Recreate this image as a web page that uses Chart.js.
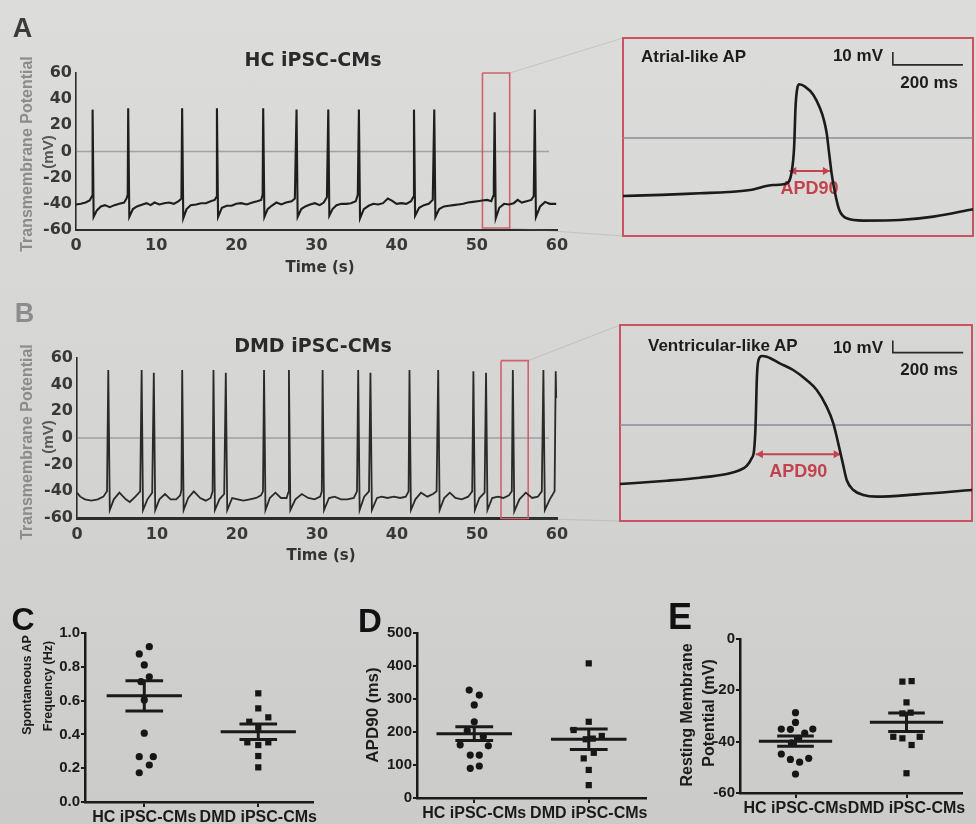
<!DOCTYPE html>
<html><head><meta charset="utf-8">
<script src="https://cdn.jsdelivr.net/npm/chart.js@4.4.1/dist/chart.umd.min.js"></script>
<style>
html,body{margin:0;padding:0;}
body{width:976px;height:824px;overflow:hidden;background:linear-gradient(180deg,#dcdcda 0%,#d5d5d3 50%,#cbcbc9 100%);font-family:"Liberation Sans",Arial,sans-serif;}
#stage{position:relative;width:976px;height:824px;}
.t{position:absolute;white-space:nowrap;line-height:1;font-weight:bold;}
</style></head><body><div id="stage"></div>
<script>
// ---------------- DATA ----------------
const timeTicks = [0, 10, 20, 30, 40, 50, 60];
const vmTicks = [-60, -40, -20, 0, 20, 40, 60];

// HC iPSC-CMs trace: [time s, mV]
const hcTrace = [
[0.0,-40.5],[0.6,-40],[1.2,-39],[1.7,-37.5],[2.0,-34],[2.07,32],[2.2,-50],[2.6,-45],[3.1,-42],[3.6,-41],[4.2,-42.5],[4.8,-41],[5.4,-40],[6.0,-39],[6.3,-36],[6.45,-33],[6.51,33],[6.65,-50],[7.1,-44],[7.6,-42],[8.3,-40.5],[8.8,-39.5],[9.3,-41],[9.8,-39],[10.4,-40.5],[11.0,-39.5],[11.6,-39],[12.2,-40],[12.8,-38],[13.15,-36],[13.24,33],[13.38,-51],[13.8,-44],[14.3,-41],[15.0,-40.5],[15.6,-39.5],[16.2,-39.5],[16.8,-38],[17.3,-37],[17.5,-35],[17.58,33],[17.72,-50],[18.2,-43],[18.8,-41.5],[19.4,-41.5],[20.0,-40],[20.6,-39.5],[21.3,-40.5],[22.0,-39],[22.6,-38],[23.1,-37],[23.28,-33],[23.35,33],[23.5,-50],[23.9,-44],[24.4,-41.5],[25.0,-39],[25.6,-40.5],[26.2,-39],[26.9,-38],[27.3,-36],[27.51,32],[27.65,-50],[28.1,-44],[28.6,-42],[29.2,-40.5],[29.8,-39.5],[30.4,-41],[30.9,-39],[31.3,-35],[31.47,32],[31.6,-49],[32.0,-44],[32.5,-41],[33.1,-40],[33.7,-40],[34.3,-39.5],[34.9,-38],[35.15,-33],[35.29,32],[35.43,-51],[35.9,-44],[36.5,-41.5],[37.1,-40],[37.7,-40.5],[38.3,-39.5],[38.9,-36],[39.4,-37.5],[40.0,-40],[40.6,-39.5],[41.2,-40],[41.8,-38],[42.05,-35],[42.16,32],[42.3,-49],[42.8,-43],[43.4,-41],[44.0,-40],[44.5,-37],[44.69,32],[44.83,-50],[45.3,-44],[45.9,-42],[46.5,-41.5],[47.1,-41],[47.7,-40.5],[48.3,-40],[48.9,-39],[49.5,-38.5],[50.1,-38],[50.7,-37.5],[51.3,-37],[51.8,-38],[52.05,-34],[52.12,-22],[52.22,30],[52.36,-51],[52.8,-43],[53.4,-40],[54.0,-40.5],[54.6,-39.5],[55.1,-37],[55.6,-39],[56.2,-38],[56.8,-37],[57.1,-34],[57.23,32],[57.37,-50],[57.9,-42],[58.5,-38.5],[59.1,-40],[59.9,-40]
];

// DMD iPSC-CMs trace: [time s, mV]
const dmdTrace = [
[0.0,-41],[0.4,-44],[1.0,-46],[1.8,-47],[2.6,-46],[3.3,-44],[3.75,-40],[3.91,51],[4.1,-54],[4.6,-46],[5.3,-41],[6.1,-46],[6.6,-48],[7.3,-44],[7.9,-40],[8.08,51],[8.25,-54],[8.8,-46],[9.4,-41],[9.6,49],[9.78,-54],[10.3,-46],[11.0,-42],[11.7,-46],[12.4,-46],[12.9,-43],[13.05,-39],[13.15,51],[13.33,-54],[13.9,-45],[14.6,-40],[15.4,-45],[16.1,-47],[16.7,-45],[16.95,-40],[17.06,51],[17.24,-54],[17.8,-46],[18.4,-42],[18.6,49],[18.78,-54],[19.4,-45],[20.1,-46],[20.8,-47],[21.6,-46],[22.4,-45],[23.0,-43],[23.25,-40],[23.38,51],[23.56,-54],[24.1,-45],[24.8,-41],[25.5,-45],[26.2,-45],[26.4,-41],[26.49,51],[26.67,-54],[27.3,-46],[28.1,-42],[28.9,-45],[29.7,-46],[30.4,-44],[30.6,-40],[30.7,51],[30.88,-54],[31.5,-45],[32.2,-44],[33.0,-46],[33.8,-46],[34.6,-45],[35.0,-40],[35.15,51],[35.33,-54],[35.9,-44],[36.5,-40],[36.68,49],[36.86,-54],[37.5,-45],[38.1,-44],[38.8,-45],[39.6,-44],[40.4,-45],[41.1,-44],[41.45,-40],[41.56,51],[41.74,-54],[42.3,-46],[43.0,-41],[43.8,-44],[44.5,-42],[44.95,-40],[45.15,51],[45.33,-54],[45.9,-45],[46.6,-41],[47.3,-45],[48.1,-46],[48.9,-44],[49.4,-40],[49.55,50],[49.73,-54],[50.3,-45],[50.95,-41],[51.13,49],[51.31,-54],[51.9,-45],[52.6,-44],[53.3,-45],[54.0,-43],[54.35,-40],[54.48,51],[54.66,-55],[55.3,-46],[56.1,-41],[56.9,-45],[57.6,-44],[58.1,-40],[58.3,51],[58.48,-54],[59.1,-46],[59.7,-40],[59.84,50],[59.9,30]
];

// zoom boxes: [t start, t end, top mV, bottom mV]
const hcZoomBox = [50.7, 54.1, 60, -58.5];
const dmdZoomBox = [53.0, 56.4, 58, -60.4];

// single action potentials: [ms, mV]
const atrialAP = [[0,-44.6],[110,-43.8],[220,-42.5],[300,-41.6],[363,-40],[429,-36.2],[468,-34.9],[482,-25.9],[489,-6.7],[493,24.1],[498,38.2],[504,41.3],[520,39.5],[544,33.1],[563,22.8],[574,13.8],[582,3.6],[589,-11.8],[596,-27.2],[606,-42.5],[618,-55.4],[639,-61.8],[687,-63.6],[791,-63.1],[887,-60.5],[1000,-54.8]];
const ventricularAP = [[0,-49.2],[133,-46.4],[227,-43.9],[303,-40.8],[341,-37.5],[360,-34.1],[374,-27.8],[381,-20.8],[385,-1.4],[389,40.3],[393.5,54.2],[403,57.5],[417,56.9],[454,51.4],[492,45.8],[530,37.5],[559,29.2],[587,15.3],[606,1.4],[620,-15.3],[633,-32],[644,-45.8],[663,-54.2],[691,-58.3],[729,-59.7],[844,-57.8],[1000,-54.2]];
// APD90 arrows: [start ms, end ms, mV]
const atrialAPD90 = [475, 591, -25.4];
const ventricularAPD90 = [386, 627, -24.4];
// scale bars: [ms, mV] corner; 10 mV / 200 ms
const atrialBar = [771, 56.2];
const ventricularBar = [775, 60.3];

const groups = ['HC iPSC-CMs', 'DMD iPSC-CMs'];

// C: spontaneous AP frequency (Hz): [group position, value]
const freqHC = [[0.956,0.876],[1.044,0.919],[1.0,0.811],[1.044,0.741],[0.971,0.712],[1.0,0.604],[1.0,0.407],[0.956,0.268],[1.079,0.268],[1.044,0.219],[0.956,0.173]];
const freqDMD = [[2.0,0.643],[2.0,0.554],[2.088,0.501],[1.921,0.475],[2.0,0.44],[1.904,0.353],[2.0,0.337],[2.088,0.353],[2.0,0.272],[2.0,0.205]];
const freqMean = [0.628, 0.416];
const freqSEM = [0.09, 0.046];
const freqTicks = [0, 0.2, 0.4, 0.6, 0.8, 1.0];

// D: APD90 (ms)
const apdHC = [[0.956,327],[1.044,312],[1.0,282],[1.0,231],[0.939,204],[1.079,186],[0.877,161],[1.123,158],[0.965,130],[1.044,130],[0.965,90],[1.044,97]];
const apdDMD = [[2.0,408],[2.0,231],[1.868,206],[2.114,188],[1.974,178],[2.035,180],[2.044,137],[1.956,120],[2.0,85],[2.0,39]];
const apdMean = [195, 178];
const apdSEM = [21, 31];
const apdTicks = [0, 100, 200, 300, 400, 500];

// E: resting membrane potential (mV)
const rmpHC = [[1.0,-28.7],[1.0,-32.5],[0.872,-35.1],[0.954,-35.2],[1.156,-35.1],[1.083,-36.7],[1.028,-38.7],[0.963,-40.5],[0.872,-44.8],[0.954,-46.9],[1.037,-48.0],[1.119,-46.5],[1.0,-52.6]];
const rmpDMD = [[1.963,-16.6],[2.046,-16.4],[2.0,-24.7],[1.963,-29.0],[2.037,-28.7],[1.881,-38.1],[1.963,-38.7],[2.119,-38.1],[2.046,-41.3],[2.0,-52.3]];
const rmpMean = [-39.8, -32.4];
const rmpSEM = [2.0, 3.6];
const rmpTicks = [-60, -40, -20, 0];

// ---------------- RENDER ----------------
Chart.defaults.font.family = '"Liberation Sans", Arial, sans-serif';
const stage = document.getElementById('stage');

function makeCanvas(b) {
  const c = document.createElement('canvas');
  c.width = b.w; c.height = b.h;
  c.style.cssText = `position:absolute;left:${b.x}px;top:${b.y}px;width:${b.w}px;height:${b.h}px`;
  stage.appendChild(c);
  return c;
}
function txt(s, cx, cy, o = {}) {
  const d = document.createElement('div');
  d.className = 't'; d.textContent = s;
  d.style.left = cx + 'px'; d.style.top = cy + 'px';
  d.style.fontSize = (o.size || 16) + 'px';
  d.style.color = o.color || '#1c1c1c';
  if (o.family) d.style.fontFamily = o.family;
  const ax = o.align === 'left' ? '0' : o.align === 'right' ? '-100%' : '-50%';
  d.style.transform = `translate(${ax},-50%)` + (o.rot ? ` rotate(${o.rot}deg)` : '');
  stage.appendChild(d);
}
const pts = arr => arr.map(p => ({ x: p[0], y: p[1] }));
const setTicks = vals => s => { s.ticks = vals.map(v => ({ value: v })); };

const dv = '"DejaVu Sans", sans-serif';

function traceChart(box, area, trace, zb, o) {
  const tickFont = { family: dv, size: 16, weight: 'bold' };
  return new Chart(makeCanvas(box), {
    type: 'scatter',
    data: { datasets: [
      { data: pts(trace), showLine: true, pointRadius: 0, borderColor: o.color, borderWidth: o.width, tension: 0, clip: false },
      { data: [{ x: 0, y: 0 }, { x: 59, y: 0 }], showLine: true, pointRadius: 0, borderColor: 'rgba(110,110,118,0.5)', borderWidth: 1.3 },
      { data: [{ x: zb[0], y: zb[2] }, { x: zb[1], y: zb[2] }, { x: zb[1], y: zb[3] }, { x: zb[0], y: zb[3] }, { x: zb[0], y: zb[2] }],
        showLine: true, pointRadius: 0, borderColor: '#d0626b', borderWidth: 1.6, clip: false }
    ] },
    options: {
      animation: false, responsive: false, devicePixelRatio: 1, events: [],
      layout: { padding: { left: 0, top: area.t - box.y, right: box.x + box.w - area.r, bottom: 0 } },
      plugins: { legend: { display: false }, tooltip: { enabled: false } },
      scales: {
        x: { type: 'linear', min: 0, max: 60, afterBuildTicks: setTicks(timeTicks),
             afterFit: s => { s.height = box.y + box.h - area.b; },
             ticks: { font: tickFont, color: '#383838', padding: o.xpad, maxRotation: 0, autoSkip: false },
             grid: { display: false, drawTicks: false },
             border: { display: true, color: '#2c2c2c', width: o.xAxisWidth } },
        y: { type: 'linear', min: -60, max: 60, afterBuildTicks: setTicks(vmTicks),
             afterFit: s => { s.width = area.l - box.x; },
             ticks: { font: tickFont, color: '#383838', padding: 4, autoSkip: false },
             grid: { display: false, drawTicks: false },
             border: { display: true, color: '#2c2c2c', width: 1.6 } }
      }
    }
  });
}

const insetPlugin = {
  id: 'insetDecor',
  beforeDatasetsDraw(chart, args, o) {
    const { ctx, chartArea: a, scales: { x, y } } = chart;
    ctx.save();
    ctx.strokeStyle = '#c9545f'; ctx.lineWidth = 2;
    ctx.strokeRect(a.left, a.top, a.right - a.left, a.bottom - a.top);
    const x0 = x.getPixelForValue(o.apd[0]), x1 = x.getPixelForValue(o.apd[1]), yy = y.getPixelForValue(o.apd[2]);
    ctx.strokeStyle = '#c2434d'; ctx.fillStyle = '#c2434d'; ctx.lineWidth = 2;
    ctx.beginPath(); ctx.moveTo(x0, yy); ctx.lineTo(x1, yy); ctx.stroke();
    ctx.beginPath(); ctx.moveTo(x0, yy); ctx.lineTo(x0 + 7, yy - 4); ctx.lineTo(x0 + 7, yy + 4); ctx.closePath(); ctx.fill();
    ctx.beginPath(); ctx.moveTo(x1, yy); ctx.lineTo(x1 - 7, yy - 4); ctx.lineTo(x1 - 7, yy + 4); ctx.closePath(); ctx.fill();
    ctx.font = 'bold 18px "Liberation Sans", Arial, sans-serif';
    ctx.textAlign = 'center'; ctx.textBaseline = 'middle';
    ctx.fillText('APD90', (x0 + x1) / 2, yy + 18);
    const bx = x.getPixelForValue(o.bar[0]), by = y.getPixelForValue(o.bar[1]);
    const byTop = y.getPixelForValue(o.bar[1] + 10), bxEnd = x.getPixelForValue(o.bar[0] + 200);
    ctx.strokeStyle = '#2a2a2a'; ctx.lineWidth = 1.6;
    ctx.beginPath(); ctx.moveTo(bx, byTop); ctx.lineTo(bx, by); ctx.lineTo(bxEnd, by); ctx.stroke();
    ctx.restore();
  }
};

function insetChart(box, area, ap, yMin, yMax, apd, bar) {
  return new Chart(makeCanvas(box), {
    type: 'scatter',
    data: { datasets: [
      { data: pts(ap), showLine: true, pointRadius: 0, borderColor: '#1b1b1b', borderWidth: 2.6, cubicInterpolationMode: 'monotone', clip: false },
      { data: [{ x: 0, y: 0 }, { x: 1000, y: 0 }], showLine: true, pointRadius: 0, borderColor: '#8e8c99', borderWidth: 1.6 }
    ] },
    options: {
      animation: false, responsive: false, devicePixelRatio: 1, events: [],
      layout: { padding: { left: area.l - box.x, top: area.t - box.y, right: box.x + box.w - area.r, bottom: box.y + box.h - area.b } },
      plugins: { legend: { display: false }, tooltip: { enabled: false }, insetDecor: { apd, bar } },
      scales: { x: { type: 'linear', display: false, min: 0, max: 1000 }, y: { type: 'linear', display: false, min: yMin, max: yMax } }
    },
    plugins: [insetPlugin]
  });
}

const summaryPlugin = {
  id: 'summary',
  afterDatasetsDraw(chart, args, o) {
    const { ctx, scales: { x, y } } = chart;
    ctx.save(); ctx.strokeStyle = '#1a1a1a'; ctx.lineWidth = 3;
    const seg = (xa, xb, ya, yb) => { ctx.beginPath(); ctx.moveTo(x.getPixelForValue(xa), y.getPixelForValue(ya)); ctx.lineTo(x.getPixelForValue(xb), y.getPixelForValue(yb)); ctx.stroke(); };
    o.mean.forEach((m, i) => {
      const g = i + 1, s = o.sem[i];
      seg(g - 0.33, g + 0.33, m, m);
      seg(g - 0.165, g + 0.165, m + s, m + s);
      seg(g - 0.165, g + 0.165, m - s, m - s);
      seg(g, g, m - s, m + s);
    });
    ctx.restore();
  }
};

function dotChart(box, area, hc, dmd, mean, sem, yMin, yMax, yTicks, fmt, xMin, xMax) {
  return new Chart(makeCanvas(box), {
    type: 'scatter',
    data: { datasets: [
      { data: pts(hc), pointStyle: 'circle', pointRadius: 3.6, backgroundColor: '#161616', borderWidth: 0 },
      { data: pts(dmd), pointStyle: 'rect', pointRadius: 4.4, backgroundColor: '#161616', borderWidth: 0 }
    ] },
    options: {
      animation: false, responsive: false, devicePixelRatio: 1, events: [],
      layout: { padding: { left: 0, top: area.t - box.y, right: box.x + box.w - area.r, bottom: 0 } },
      plugins: { legend: { display: false }, tooltip: { enabled: false }, summary: { mean, sem } },
      scales: {
        x: { type: 'linear', min: xMin, max: xMax, afterBuildTicks: setTicks([1, 2]),
             afterFit: s => { s.height = box.y + box.h - area.b; },
             ticks: { callback: v => groups[v - 1], font: { size: 16, weight: 'bold' }, color: '#1a1a1a', padding: 1, maxRotation: 0, autoSkip: false },
             grid: { display: true, drawOnChartArea: false, drawTicks: true, tickLength: 5, color: '#1a1a1a', lineWidth: 2 },
             border: { display: true, color: '#1a1a1a', width: 2.5 } },
        y: { type: 'linear', min: yMin, max: yMax, afterBuildTicks: setTicks(yTicks),
             afterFit: s => { s.width = area.l - box.x; },
             ticks: { callback: fmt, font: { size: 15, weight: 'bold' }, color: '#1a1a1a', padding: 1, autoSkip: false },
             grid: { display: true, drawOnChartArea: false, drawTicks: true, tickLength: 4, color: '#1a1a1a', lineWidth: 2 },
             border: { display: true, color: '#1a1a1a', width: 2.5 } }
      }
    },
    plugins: [summaryPlugin]
  });
}

// Panel A and B
const boxA = { x: 0, y: 40, w: 600, h: 250 }, areaA = { l: 76, t: 73, r: 557, b: 230 };
const boxB = { x: 0, y: 330, w: 600, h: 250 }, areaB = { l: 77, t: 358, r: 557, b: 518 };
const chartA = traceChart(boxA, areaA, hcTrace, hcZoomBox, { color: '#1e1e1e', width: 2.1, xAxisWidth: 2, xpad: 6 });
const chartB = traceChart(boxB, areaB, dmdTrace, dmdZoomBox, { color: '#2a2a2a', width: 1.8, xAxisWidth: 3, xpad: 7 });

const boxIA = { x: 600, y: 20, w: 376, h: 240 }, areaIA = { l: 623, t: 38, r: 973, b: 236 };
const boxIB = { x: 600, y: 300, w: 376, h: 240 }, areaIB = { l: 620, t: 325, r: 972, b: 521 };
const insetA = insetChart(boxIA, areaIA, atrialAP, -75.4, 76.9, atrialAPD90, atrialBar);
const insetB = insetChart(boxIB, areaIB, ventricularAP, -80, 83.3, ventricularAPD90, ventricularBar);

// Panels C, D, E
dotChart({ x: 0, y: 600, w: 335, h: 224 }, { l: 85, t: 633, r: 313, b: 802 }, freqHC, freqDMD, freqMean, freqSEM, 0, 1, freqTicks, v => v.toFixed(1), 0.48, 2.48);
dotChart({ x: 335, y: 600, w: 330, h: 224 }, { l: 417, t: 633, r: 646, b: 798 }, apdHC, apdDMD, apdMean, apdSEM, 0, 500, apdTicks, v => String(v), 0.5, 2.5);
dotChart({ x: 655, y: 600, w: 321, h: 224 }, { l: 740, t: 639, r: 962, b: 793 }, rmpHC, rmpDMD, rmpMean, rmpSEM, -60, 0, rmpTicks, v => String(v), 0.5, 2.5);

// connector lines from zoom boxes to insets
const svgNS = 'http://www.w3.org/2000/svg';
const svg = document.createElementNS(svgNS, 'svg');
svg.setAttribute('width', 976); svg.setAttribute('height', 824);
svg.style.cssText = 'position:absolute;left:0;top:0;pointer-events:none';
stage.appendChild(svg);
function connect(ch, b, zb, ins, ib) {
  const xs = ch.scales.x, ys = ch.scales.y, a = ins.chartArea;
  const x1 = b.x + xs.getPixelForValue(zb[1]);
  const yT = b.y + ys.getPixelForValue(zb[2]), yB = b.y + ys.getPixelForValue(zb[3]);
  [[x1, yT, ib.x + a.left, ib.y + a.top], [x1, yB, ib.x + a.left, ib.y + a.bottom]].forEach(l => {
    const ln = document.createElementNS(svgNS, 'line');
    ln.setAttribute('x1', l[0]); ln.setAttribute('y1', l[1]); ln.setAttribute('x2', l[2]); ln.setAttribute('y2', l[3]);
    ln.setAttribute('stroke', 'rgba(120,120,120,0.22)'); ln.setAttribute('stroke-width', '1');
    svg.appendChild(ln);
  });
}
connect(chartA, boxA, hcZoomBox, insetA, boxIA);
connect(chartB, boxB, dmdZoomBox, insetB, boxIB);

// ---------------- TEXT ----------------
txt('A', 22.5, 27.5, { size: 27, color: '#3a3a3a' });
txt('B', 24.5, 313, { size: 27, color: '#8c8c8c' });
txt('C', 23, 619, { size: 32, color: '#111' });
txt('D', 370, 619.5, { size: 33, color: '#111' });
txt('E', 680, 616.5, { size: 36, color: '#111' });

txt('HC iPSC-CMs', 313, 59, { size: 19, family: dv, color: '#2a2a2a' });
txt('DMD iPSC-CMs', 313, 345, { size: 19, family: dv, color: '#2a2a2a' });
txt('Time (s)', 320, 267, { size: 15, family: dv, color: '#333' });
txt('Time (s)', 321, 555, { size: 15, family: dv, color: '#333' });
txt('Transmembrane Potential', 27, 153.5, { size: 16, color: '#8c8c8c', rot: -90 });
txt('(mV)', 47, 152, { size: 15, color: '#555', rot: -90 });
txt('Transmembrane Potential', 27, 442, { size: 16, color: '#8c8c8c', rot: -90 });
txt('(mV)', 47, 437, { size: 15, color: '#555', rot: -90 });

txt('Atrial-like AP', 641, 56, { size: 17, align: 'left' });
txt('10 mV', 883, 55, { size: 17, align: 'right' });
txt('200 ms', 958, 82, { size: 17, align: 'right' });
txt('Ventricular-like AP', 648, 345, { size: 17, align: 'left' });
txt('10 mV', 883, 347, { size: 17, align: 'right' });
txt('200 ms', 958, 369, { size: 17, align: 'right' });

txt('Spontaneous AP', 27, 685, { size: 12.5, rot: -90 });
txt('Frequency (Hz)', 48, 686, { size: 12.5, rot: -90 });
txt('APD90 (ms)', 372, 715, { size: 17, rot: -90 });
txt('Resting Membrane', 687, 715, { size: 16, rot: -90 });
txt('Potential (mV)', 709, 713, { size: 16, rot: -90 });
</script></body></html>
